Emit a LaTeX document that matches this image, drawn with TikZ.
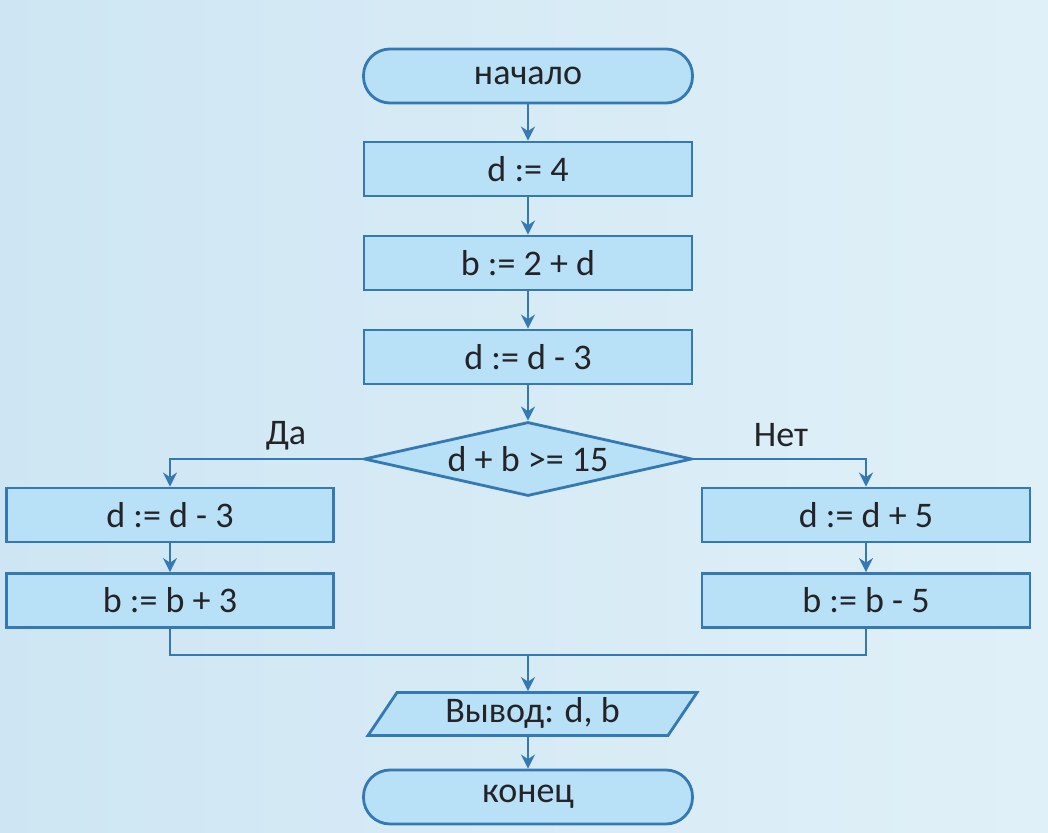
\documentclass[tikz,border=0pt]{standalone}
\usepackage{fontspec}
\setmainfont{Carlito}
\usetikzlibrary{shapes.geometric, arrows.meta}

\definecolor{bgblue}{RGB}{206,230,243}
\definecolor{bglight}{RGB}{224,240,248}
\definecolor{boxfill}{RGB}{184,224,246}
\definecolor{lineblue}{RGB}{52,120,180}
\definecolor{textgray}{RGB}{35,35,40}

\tikzset{
    block/.style={draw=lineblue, fill=boxfill, line width=1.6pt, minimum width=6.56cm, minimum height=1.08cm, inner sep=0pt, text=textgray},
    terminal/.style={block, rounded corners=0.53cm, minimum width=6.58cm},
    decision/.style={block, diamond, aspect=4.4, minimum width=6.56cm, minimum height=1.48cm},
    io/.style={block, trapezium, trapezium left angle=56, trapezium right angle=124, trapezium stretches body, text height=0.42cm, text depth=0.08cm, inner ysep=0.18cm, minimum height=0.86cm, minimum width=6.58cm},
    flow/.style={draw=lineblue, line width=1.6pt, -{Stealth[length=8pt,width=8pt]}},
    link/.style={draw=lineblue, line width=1.6pt}
}

\begin{document}
\begin{tikzpicture}[font=\fontsize{20.5}{24}\selectfont]
            % Background
            \shade[left color=bgblue, right color=bglight] (0,0) rectangle (20.96,-16.66);
            \useasboundingbox (0,0) rectangle (20.96,-16.66);

            % Nodes
            \node[terminal] (start) at (10.56,-1.52) {начало};
            \node[block] (s1) at (10.56,-3.38) {d := 4};
            \node[block] (s2) at (10.56,-5.26) {b := 2 + d};
            \node[block] (s3) at (10.56,-7.14) {d := d - 3};
            \node[decision] (cond) at (10.56,-9.18) {d + b >= 15};
            \node[block, minimum width=6.54cm] (yes1) at (3.40,-10.30) {d := d - 3};
            \node[block, minimum width=6.54cm] (yes2) at (3.40,-12.01) {b := b + 3};
            \node[block, minimum width=6.56cm] (no1) at (17.32,-10.30) {d := d + 5};
            \node[block, minimum width=6.56cm] (no2) at (17.32,-12.01) {b := b - 5};
            \node[io] (out) at (10.65,-14.28) {Вывод: d, b};
            \node[terminal] (stop) at (10.56,-15.94) {конец};
            \coordinate (merge) at (10.56,-13.10);

            % Labels
            \node[text=textgray] (yes) at (5.72,-8.72) {Да};
            \node[text=textgray] (no) at (15.62,-8.70) {Нет};

            % Edges
            \draw[flow] (start) -- (s1);
            \draw[flow] (s1) -- (s2);
            \draw[flow] (s2) -- (s3);
            \draw[flow] (s3) -- (cond);
            \draw[flow] (cond.west) -| (yes1.north);
            \draw[flow] (cond.east) -| (no1.north);
            \draw[flow] (yes1) -- (yes2);
            \draw[flow] (no1) -- (no2);
            \draw[link] (yes2.south) |- (merge) -| (no2.south);
            \draw[flow] (merge) -- (merge |- out.north);
            \draw[flow] (merge |- out.south) -- (stop);
        \end{tikzpicture}
\end{document}
